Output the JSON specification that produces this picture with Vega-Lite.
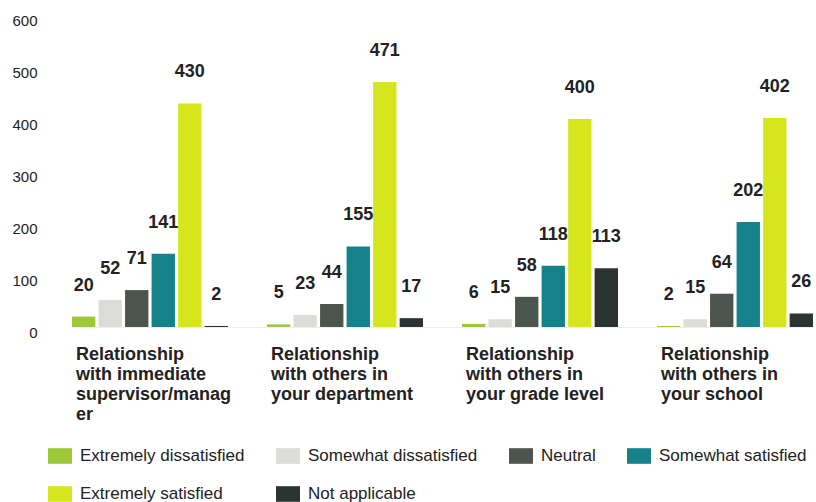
{
  "$schema": "https://vega.github.io/schema/vega-lite/v6.json",
  "width": 741,
  "height": 312,
  "autosize": {"type": "none"},
  "padding": {"left": 72, "top": 15, "right": 3, "bottom": 175},
  "config": {"view": {"stroke": null}, "font": "Liberation Sans"},
  "data": {
    "values": [
      {"category": "Relationship with immediate supervisor/manager", "response": "Extremely dissatisfied", "count": 20},
      {"category": "Relationship with immediate supervisor/manager", "response": "Somewhat dissatisfied", "count": 52},
      {"category": "Relationship with immediate supervisor/manager", "response": "Neutral", "count": 71},
      {"category": "Relationship with immediate supervisor/manager", "response": "Somewhat satisfied", "count": 141},
      {"category": "Relationship with immediate supervisor/manager", "response": "Extremely satisfied", "count": 430},
      {"category": "Relationship with immediate supervisor/manager", "response": "Not applicable", "count": 2},
      {"category": "Relationship with others in your department", "response": "Extremely dissatisfied", "count": 5},
      {"category": "Relationship with others in your department", "response": "Somewhat dissatisfied", "count": 23},
      {"category": "Relationship with others in your department", "response": "Neutral", "count": 44},
      {"category": "Relationship with others in your department", "response": "Somewhat satisfied", "count": 155},
      {"category": "Relationship with others in your department", "response": "Extremely satisfied", "count": 471},
      {"category": "Relationship with others in your department", "response": "Not applicable", "count": 17},
      {"category": "Relationship with others in your grade level", "response": "Extremely dissatisfied", "count": 6},
      {"category": "Relationship with others in your grade level", "response": "Somewhat dissatisfied", "count": 15},
      {"category": "Relationship with others in your grade level", "response": "Neutral", "count": 58},
      {"category": "Relationship with others in your grade level", "response": "Somewhat satisfied", "count": 118},
      {"category": "Relationship with others in your grade level", "response": "Extremely satisfied", "count": 400},
      {"category": "Relationship with others in your grade level", "response": "Not applicable", "count": 113},
      {"category": "Relationship with others in your school", "response": "Extremely dissatisfied", "count": 2},
      {"category": "Relationship with others in your school", "response": "Somewhat dissatisfied", "count": 15},
      {"category": "Relationship with others in your school", "response": "Neutral", "count": 64},
      {"category": "Relationship with others in your school", "response": "Somewhat satisfied", "count": 202},
      {"category": "Relationship with others in your school", "response": "Extremely satisfied", "count": 402},
      {"category": "Relationship with others in your school", "response": "Not applicable", "count": 26}
    ]
  },
  "encoding": {
    "x": {
      "field": "category",
      "type": "nominal",
      "sort": null,
      "scale": {"paddingInner": 0.2, "paddingOuter": 0},
      "axis": {
        "title": null,
        "ticks": false,
        "domainColor": "#eeeeee",
        "labelAngle": 0,
        "labelAlign": "left",
        "labelBaseline": "top",
        "labelOffset": -74,
        "labelPadding": 18,
        "labelFontSize": 18,
        "labelFontWeight": "bold",
        "labelColor": "#222222",
        "labelLineHeight": 20,
        "labelLimit": 0,
        "labelExpr": "datum.value == 'Relationship with immediate supervisor/manager' ? ['Relationship','with immediate','supervisor/manag','er'] : datum.value == 'Relationship with others in your department' ? ['Relationship','with others in','your department'] : datum.value == 'Relationship with others in your grade level' ? ['Relationship','with others in','your grade level'] : ['Relationship','with others in','your school']"
      }
    },
    "xOffset": {
      "field": "response",
      "type": "nominal",
      "sort": ["Extremely dissatisfied", "Somewhat dissatisfied", "Neutral", "Somewhat satisfied", "Extremely satisfied", "Not applicable"],
      "scale": {"paddingInner": 0.12, "paddingOuter": 0}
    },
    "y": {
      "field": "count",
      "type": "quantitative",
      "scale": {"domain": [0, 600], "nice": false},
      "axis": {
        "title": null,
        "ticks": false,
        "domain": false,
        "grid": false,
        "values": [0, 100, 200, 300, 400, 500, 600],
        "labelPadding": 35,
        "labelOffset": 5,
        "labelFontSize": 15,
        "labelColor": "#222222"
      }
    }
  },
  "layer": [
    {
      "mark": {"type": "bar"},
      "encoding": {
        "color": {
          "field": "response",
          "type": "nominal",
          "sort": ["Extremely dissatisfied", "Somewhat dissatisfied", "Neutral", "Somewhat satisfied", "Extremely satisfied", "Not applicable"],
          "scale": {
            "domain": ["Extremely dissatisfied", "Somewhat dissatisfied", "Neutral", "Somewhat satisfied", "Extremely satisfied", "Not applicable"],
            "range": ["#9cc83a", "#dcdcd8", "#4b554d", "#158189", "#d6e61c", "#2b3333"]
          },
          "legend": {
            "title": null,
            "orient": "none",
            "legendX": -24,
            "legendY": 429,
            "direction": "horizontal",
            "columns": 4,
            "gridAlign": "none",
            "columnPadding": 31,
            "rowPadding": 18,
            "labelFontSize": 17,
            "labelColor": "#222222",
            "labelOffset": 8,
            "labelLimit": 0,
            "symbolType": "M-1,-0.65H1V0.65H-1Z",
            "symbolSize": 576,
            "symbolStrokeWidth": 0,
            "symbolOpacity": 1
          }
        }
      }
    },
    {
      "mark": {"type": "text", "dy": -26, "baseline": "alphabetic", "fontWeight": "bold", "fontSize": 18, "color": "#222222"},
      "encoding": {"text": {"field": "count", "type": "quantitative"}}
    }
  ]
}
